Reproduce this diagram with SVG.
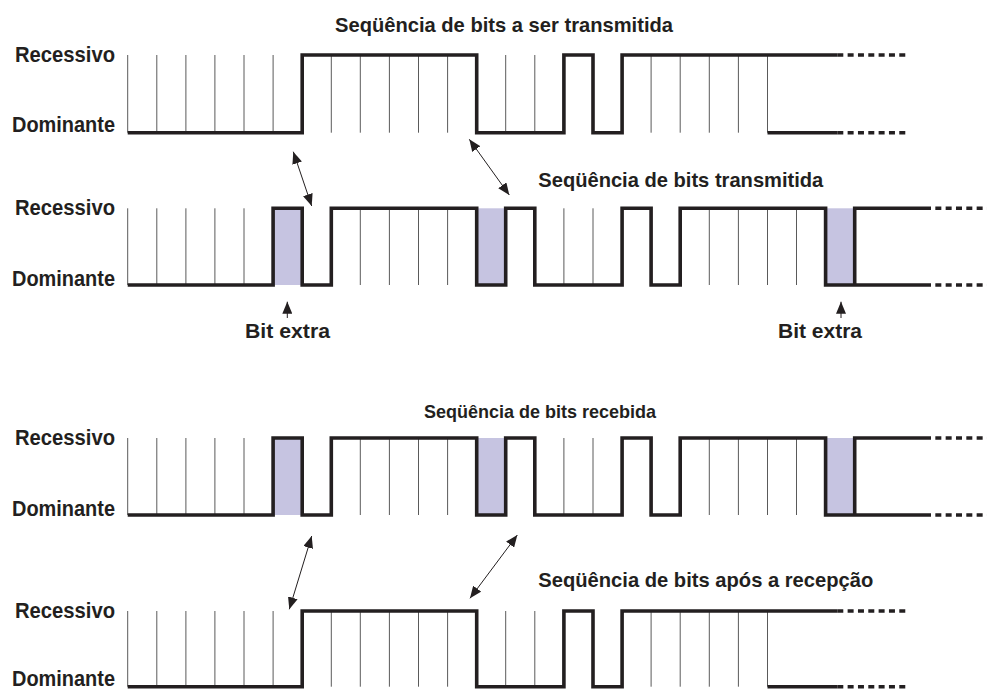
<svg xmlns="http://www.w3.org/2000/svg" width="987" height="690" viewBox="0 0 987 690">
  <defs>
    <marker id="head" markerUnits="userSpaceOnUse" markerWidth="12" markerHeight="10" refX="12" refY="5" orient="auto-start-reverse">
      <path d="M0,0 L12,5 L0,10 z" fill="#231f20"/>
    </marker>
    <style>
      text { font-family: "Liberation Sans", Arial, sans-serif; font-weight: bold; fill: #231f20; }
      .lvl { font-size: 22px; }
      .ttl { font-size: 20.5px; }
      .ttl-s { font-size: 19px; }
      .sig { fill: none; stroke: #231f20; stroke-width: 3.6; stroke-linejoin: miter; }
      .dash { fill: none; stroke: #231f20; stroke-width: 3.6; stroke-dasharray: 6 4.33; }
      .grid { fill: none; stroke: #5a5a5a; stroke-width: 1; }
      .stuff { fill: #c6c4e1; stroke: none; }
      .arrow { fill: none; stroke: #231f20; stroke-width: 1; marker-end: url(#head); }
      .arrow2 { fill: none; stroke: #231f20; stroke-width: 1; marker-start: url(#head); marker-end: url(#head); }
    </style>
  </defs>

  <rect width="987" height="690" fill="#ffffff"/>

  <!-- Waveform 1: bits to be transmitted -->
  <g id="seq-transmit">
    <text class="ttl" x="335" y="32" textLength="338" lengthAdjust="spacingAndGlyphs">Seqüência de bits a ser transmitida</text>
    <text class="lvl" x="15" y="62" textLength="100" lengthAdjust="spacingAndGlyphs">Recessivo</text>
    <text class="lvl" x="12" y="132" textLength="103" lengthAdjust="spacingAndGlyphs">Dominante</text>
    <path class="grid" d="M127.7,55V132.7 M156.8,55V132.7 M185.9,55V132.7 M214.9,55V132.7 M244,55V132.7 M273.1,55V132.7 M331.3,55V132.7 M360.3,55V132.7 M389.4,55V132.7 M418.5,55V132.7 M447.6,55V132.7 M505.7,55V132.7 M534.8,55V132.7 M651.1,55V132.7 M680.2,55V132.7 M709.3,55V132.7 M738.4,55V132.7 M767.5,55V132.7"/>
    <path class="sig" d="M127.7,132.7 H302.2 V55 H476.7 V132.7 H563.9 V55 H593 V132.7 H622.1 V55 H837.3 M767.5,132.7 H837.3"/>
    <path class="dash" d="M837.3,55 H905.3 M837.3,132.7 H905.3"/>
  </g>

  <!-- Waveform 2: transmitted bits with stuff bits -->
  <g id="seq-sent">
    <text class="ttl" x="538.3" y="187" textLength="285" lengthAdjust="spacingAndGlyphs">Seqüência de bits transmitida</text>
    <text class="lvl" x="15" y="215" textLength="100" lengthAdjust="spacingAndGlyphs">Recessivo</text>
    <text class="lvl" x="12" y="286" textLength="103" lengthAdjust="spacingAndGlyphs">Dominante</text>
    <rect class="stuff" x="273.1" y="208.3" width="29.1" height="76.7"/>
    <rect class="stuff" x="476.7" y="208.3" width="29" height="76.7"/>
    <rect class="stuff" x="825.6" y="208.3" width="29.1" height="76.7"/>
    <path class="grid" d="M127.7,208.3V285 M156.8,208.3V285 M185.9,208.3V285 M214.9,208.3V285 M244,208.3V285 M360.3,208.3V285 M389.4,208.3V285 M418.5,208.3V285 M447.6,208.3V285 M563.9,208.3V285 M593,208.3V285 M709.3,208.3V285 M738.4,208.3V285 M767.5,208.3V285 M796.5,208.3V285"/>
    <path class="sig" d="M127.7,285 H273.1 V208.3 H302.2 V285 H331.3 V208.3 H476.7 V285 H505.7 V208.3 H534.8 V285 H622.1 V208.3 H651.1 V285 H680.2 V208.3 H825.6 V285 H854.7 V208.3 H925 M854.7,285 H925"/>
    <path class="dash" d="M925,208.3 H987 M925,285 H987"/>
  </g>

  <!-- Stuff bit labels -->
  <g id="bit-extra-1">
    <text class="ttl" x="245" y="338" textLength="85" lengthAdjust="spacingAndGlyphs">Bit extra</text>
  </g>
  <g id="bit-extra-2">
    <text class="ttl" x="778" y="338" textLength="84" lengthAdjust="spacingAndGlyphs">Bit extra</text>
  </g>

  <!-- Waveform 3: received bits -->
  <g id="seq-received">
    <text class="ttl-s" x="424" y="418" textLength="232" lengthAdjust="spacingAndGlyphs">Seqüência de bits recebida</text>
    <text class="lvl" x="15" y="445" textLength="100" lengthAdjust="spacingAndGlyphs">Recessivo</text>
    <text class="lvl" x="12" y="516" textLength="103" lengthAdjust="spacingAndGlyphs">Dominante</text>
    <rect class="stuff" x="273.1" y="438" width="29.1" height="77"/>
    <rect class="stuff" x="476.7" y="438" width="29" height="77"/>
    <rect class="stuff" x="825.6" y="438" width="29.1" height="77"/>
    <path class="grid" d="M127.7,438V515 M156.8,438V515 M185.9,438V515 M214.9,438V515 M244,438V515 M360.3,438V515 M389.4,438V515 M418.5,438V515 M447.6,438V515 M563.9,438V515 M593,438V515 M709.3,438V515 M738.4,438V515 M767.5,438V515 M796.5,438V515"/>
    <path class="sig" d="M127.7,515 H273.1 V438 H302.2 V515 H331.3 V438 H476.7 V515 H505.7 V438 H534.8 V515 H622.1 V438 H651.1 V515 H680.2 V438 H825.6 V515 H854.7 V438 H925 M854.7,515 H925"/>
    <path class="dash" d="M925,438 H987 M925,515 H987"/>
  </g>

  <!-- Waveform 4: bits after reception (stuff bits removed) -->
  <g id="seq-decoded">
    <text class="ttl" x="538.3" y="587.3" textLength="335" lengthAdjust="spacingAndGlyphs">Seqüência de bits após a recepção</text>
    <text class="lvl" x="15" y="618" textLength="100" lengthAdjust="spacingAndGlyphs">Recessivo</text>
    <text class="lvl" x="12" y="686" textLength="103" lengthAdjust="spacingAndGlyphs">Dominante</text>
    <path class="grid" d="M127.7,611V686.7 M156.8,611V686.7 M185.9,611V686.7 M214.9,611V686.7 M244,611V686.7 M273.1,611V686.7 M331.3,611V686.7 M360.3,611V686.7 M389.4,611V686.7 M418.5,611V686.7 M447.6,611V686.7 M505.7,611V686.7 M534.8,611V686.7 M651.1,611V686.7 M680.2,611V686.7 M709.3,611V686.7 M738.4,611V686.7 M767.5,611V686.7"/>
    <path class="sig" d="M127.7,686.7 H302.2 V611 H476.7 V686.7 H563.9 V611 H593 V686.7 H622.1 V611 H837.3 M767.5,686.7 H837.3"/>
    <path class="dash" d="M837.3,611 H905.3 M837.3,686.7 H905.3"/>
  </g>

  <!-- Connectors -->
  <g id="connectors">
    <line class="arrow2" x1="293.3" y1="151.7" x2="311.7" y2="206"/>
    <line class="arrow2" x1="469.3" y1="139.3" x2="509.3" y2="195"/>
    <line class="arrow" x1="287.3" y1="318" x2="287.3" y2="301.7"/>
    <line class="arrow" x1="841" y1="318" x2="841" y2="301.7"/>
    <line class="arrow2" x1="311.7" y1="536" x2="289.3" y2="609.3"/>
    <line class="arrow2" x1="517.3" y1="535" x2="470" y2="598.3"/>
  </g>
</svg>
